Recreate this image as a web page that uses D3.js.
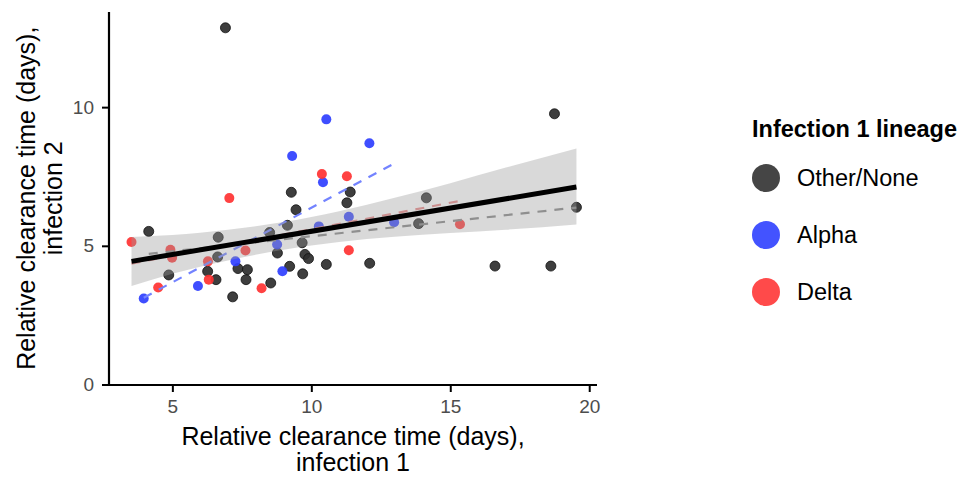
<!DOCTYPE html>
<html>
<head>
<meta charset="utf-8">
<script src="https://cdn.jsdelivr.net/npm/d3@7"></script>
<style>
  html, body { margin: 0; padding: 0; background: #fff; }
  svg { display: block; font-family: "Liberation Sans", Arial, Helvetica, sans-serif; }
</style>
</head>
<body>
<svg id="chart" width="965" height="477"></svg>
<script>
// ---------------- data ----------------
const lineages = ["Other/None", "Alpha", "Delta"];

const otherX = [6.91, 9.28, 11.40, 9.45, 11.28, 4.15, 6.65, 6.63, 6.27, 7.36, 7.70, 4.87, 6.57, 7.65, 7.17, 8.54,
                9.22, 9.69, 9.77, 9.90, 10.54, 8.78, 9.67, 8.50, 9.14, 12.10, 14.14, 13.86, 19.54, 18.75, 16.61, 18.62];
const otherY = [12.86, 6.93, 6.94, 6.30, 6.55, 5.52, 5.31, 4.60, 4.08, 4.18, 4.14, 3.95, 3.78, 3.78, 3.16, 3.66,
                4.26, 3.99, 4.69, 4.54, 4.33, 4.74, 5.11, 5.48, 5.74, 4.37, 6.73, 5.80, 6.39, 9.76, 4.27, 4.27];

const alphaX = [10.54, 9.31, 10.42, 11.35, 10.27, 12.09, 12.98, 8.77, 7.27, 8.96, 5.92, 3.97];
const alphaY = [9.56, 8.24, 7.29, 6.05, 5.70, 8.70, 5.85, 5.05, 4.44, 4.08, 3.55, 3.10];

const deltaX = [10.38, 11.28, 7.05, 3.53, 4.93, 4.99, 6.28, 6.31, 4.49, 8.21, 7.63, 11.35, 15.35];
const deltaY = [7.59, 7.51, 6.72, 5.14, 4.86, 4.57, 4.44, 3.78, 3.50, 3.47, 4.83, 4.84, 5.78];

// overall fit and its confidence band
const fitX = [3.53, 19.54];
const fitY = [4.44, 7.12];
const bandX  = [3.53, 5.0, 7.0, 9.0, 11.0, 13.0, 15.0, 17.0, 19.54];
const bandLo = [3.55, 3.99, 4.47, 4.86, 5.14, 5.33, 5.46, 5.58, 5.77];
const bandHi = [5.32, 5.39, 5.58, 5.86, 6.25, 6.73, 7.26, 7.82, 8.51];

// per-lineage fits (dashed)
const otherFitX = [4.15, 19.54], otherFitY = [4.71, 6.38];
const alphaFitX = [3.97, 12.98], alphaFitY = [3.13, 7.97];
const deltaFitX = [3.53, 15.35], deltaFitY = [4.36, 6.62];

const xTicks = [5, 10, 15, 20];
const yTicks = [0, 5, 10];

const xTitle = ["Relative clearance time (days),", "infection 1"];
const yTitle = ["Relative clearance time (days),", "infection 2"];
const legendTitle = "Infection 1 lineage";

// ---------------- styles ----------------
const pointColor = { "Other/None": "#2e2e2e", "Alpha": "#2f3fff", "Delta": "#ff3232" };
const keyColor   = { "Other/None": "#454545", "Alpha": "#4353ff", "Delta": "#ff4a4a" };
const fitColor   = { "Other/None": "#888888", "Alpha": "#7383ff", "Delta": "#e88888" };

const svg = d3.select("#chart");
const L = 109, R = 597, T = 12, B = 384.5;

const x = d3.scaleLinear().domain([2.72, 20.28]).range([L, R]);
const y = d3.scaleLinear().domain([0, 13.43]).range([B, T]);

const groups = [
  { name: "Other/None", xs: otherX, ys: otherY, fx: otherFitX, fy: otherFitY },
  { name: "Alpha", xs: alphaX, ys: alphaY, fx: alphaFitX, fy: alphaFitY },
  { name: "Delta", xs: deltaX, ys: deltaY, fx: deltaFitX, fy: deltaFitY }
];

// points
const gPts = svg.append("g");
groups.forEach(g => {
  const pts = g.xs.map((v, i) => [v, g.ys[i]]);
  gPts.selectAll(null).data(pts).enter().append("circle")
    .attr("cx", d => x(d[0])).attr("cy", d => y(d[1])).attr("r", 5)
    .attr("fill", pointColor[g.name]).attr("fill-opacity", 0.92)
    .attr("stroke", g.name === "Other/None" ? "#111" : "none").attr("stroke-width", 0.8);
});

// dashed group fits
const line = d3.line().x(d => x(d[0])).y(d => y(d[1]));
groups.forEach(g => {
  svg.append("path")
    .attr("d", line(g.fx.map((v, i) => [v, g.fy[i]])))
    .attr("fill", "none").attr("stroke", fitColor[g.name])
    .attr("stroke-width", 2.2).attr("stroke-dasharray", "9,8");
});

// ribbon
const area = d3.area().curve(d3.curveMonotoneX)
  .x(d => x(d[0])).y0(d => y(d[1])).y1(d => y(d[2]));
svg.append("path")
  .attr("d", area(bandX.map((v, i) => [v, bandLo[i], bandHi[i]])))
  .attr("fill", "#9c9c9c").attr("fill-opacity", 0.38);

// overall line
svg.append("path")
  .attr("d", line(fitX.map((v, i) => [v, fitY[i]])))
  .attr("fill", "none").attr("stroke", "#000").attr("stroke-width", 5);

// axes
const xAxis = svg.append("g").attr("transform", `translate(0,${B + 0.5})`)
  .call(d3.axisBottom(x).tickValues(xTicks).tickSize(7).tickPadding(8).tickFormat(d3.format("d")));
const yAxis = svg.append("g").attr("transform", `translate(${L},0)`)
  .call(d3.axisLeft(y).tickValues(yTicks).tickSize(7).tickPadding(8).tickFormat(d3.format("d")));
[xAxis, yAxis].forEach(a => {
  a.select(".domain").remove();
  a.selectAll(".tick line").attr("stroke", "#000").attr("stroke-width", 2);
  a.selectAll(".tick text").attr("fill", "#4d4d4d").style("font-size", "19px")
    .style("font-family", '"Liberation Sans", Arial, sans-serif');
});
svg.append("line").attr("x1", L).attr("x2", L).attr("y1", T).attr("y2", B + 1.5)
  .attr("stroke", "#000").attr("stroke-width", 2.2);
svg.append("line").attr("x1", L - 1).attr("x2", R).attr("y1", B + 0.5).attr("y2", B + 0.5)
  .attr("stroke", "#000").attr("stroke-width", 2.2);

// axis titles
const cx = (L + R) / 2, cy = (T + B) / 2;
svg.append("g").selectAll("text").data(xTitle).enter().append("text")
  .attr("x", cx).attr("y", (d, i) => 445 + i * 26)
  .attr("text-anchor", "middle").style("font-size", "25px").attr("fill", "#000").text(d => d);
svg.append("g").attr("transform", `translate(0,${cy}) rotate(-90)`)
  .selectAll("text").data(yTitle).enter().append("text")
  .attr("x", 0).attr("y", (d, i) => 35 + i * 27)
  .attr("text-anchor", "middle").style("font-size", "25px").attr("fill", "#000").text(d => d);

// legend
const lg = svg.append("g");
lg.append("text").attr("x", 752).attr("y", 137).style("font-size", "23.5px")
  .style("font-weight", "bold").attr("fill", "#000").text(legendTitle);
const keys = lg.selectAll("g.key").data(lineages).enter().append("g")
  .attr("transform", (d, i) => `translate(0,${178 + i * 57})`);
keys.append("circle").attr("cx", 766).attr("cy", 0).attr("r", 14).attr("fill", d => keyColor[d]);
keys.append("text").attr("x", 797).attr("y", 0).attr("dy", "0.35em")
  .style("font-size", "23.5px").attr("fill", "#000").text(d => d);
</script>
</body>
</html>
